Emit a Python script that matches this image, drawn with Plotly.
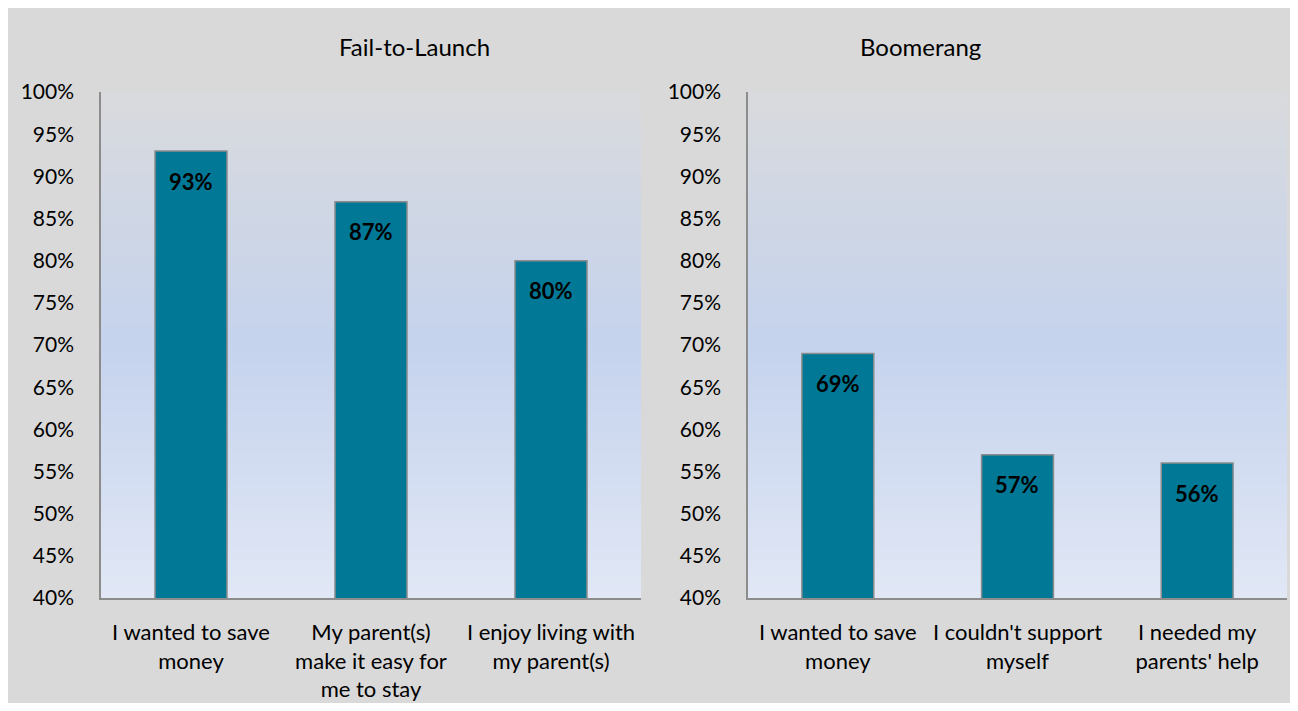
import plotly.graph_objects as go

# ---- data ----
ftl_categories = ["I wanted to save<br>money", "My parent(s)<br>make it easy for<br>me to stay", "I enjoy living with<br>my parent(s)"]
ftl_values = [93, 87, 80]
boom_categories = ["I wanted to save<br>money", "I couldn't support<br>myself", "I needed my<br>parents' help"]
boom_values = [69, 57, 56]
panel_titles = ["Fail-to-Launch", "Boomerang"]
y_ticks = [40, 45, 50, 55, 60, 65, 70, 75, 80, 85, 90, 95, 100]
y_tick_labels = [f"{v}%" for v in y_ticks]

# figure sized so that the page (with the default 8px body margin) fits the 1298x711 window
W, H = 1282, 695
OFF = 8  # body margin of the page
FONT = "Lato"
BAR_COLOR = "#007896"
BAR_LINE = "#8c8c8c"
BG = "#d9d9d9"


def px(x):  # window x -> paper fraction
    return (x - OFF) / W


def py(y):  # window y (from top) -> paper fraction
    return (H - (y - OFF)) / H


fig = go.Figure()

fig.add_trace(go.Bar(x=ftl_categories, y=ftl_values, xaxis="x", yaxis="y",
                     marker=dict(color=BAR_COLOR, line=dict(color=BAR_LINE, width=1.5)),
                     width=0.4, base=0, hoverinfo="skip", showlegend=False))
fig.add_trace(go.Bar(x=boom_categories, y=boom_values, xaxis="x2", yaxis="y2",
                     marker=dict(color=BAR_COLOR, line=dict(color=BAR_LINE, width=1.5)),
                     width=0.4, base=0, hoverinfo="skip", showlegend=False))

for cats, vals, xr, yr in [(ftl_categories, ftl_values, "x", "y"), (boom_categories, boom_values, "x2", "y2")]:
    for c, v in zip(cats, vals):
        fig.add_annotation(x=c, y=v, xref=xr, yref=yr, text=f"<b>{v}%</b>", showarrow=False,
                           yshift=-30, font=dict(family=FONT, size=22, color="black"))

shapes = []
shapes.append(dict(type="rect", xref="paper", yref="paper", x0=0, x1=1, y0=0, y1=min(1, py(12)),
                   fillcolor=BG, line=dict(width=0), layer="below"))

stops = [(0.0, (217, 218, 221)), (0.5, (197, 211, 237)), (1.0, (225, 231, 245))]


def col_at(t):
    for (t0, c0), (t1, c1) in zip(stops[:-1], stops[1:]):
        if t0 <= t <= t1:
            f = (t - t0) / (t1 - t0)
            return "rgb(%d,%d,%d)" % tuple(round(a + (b - a) * f) for a, b in zip(c0, c1))
    return "rgb(%d,%d,%d)" % stops[-1][1]


N = 80
for xr, yr in [("x domain", "y domain"), ("x2 domain", "y2 domain")]:
    for i in range(N):
        t = (i + 0.5) / N
        shapes.append(dict(type="rect", xref=xr, yref=yr, x0=0, x1=1,
                           y0=1 - (i + 1) / N, y1=1 - i / N + 0.002,
                           fillcolor=col_at(t), line=dict(width=0), layer="below"))

fig.update_layout(shapes=shapes)

fig.add_annotation(x=px(337), y=py(47), xref="paper", yref="paper", text=panel_titles[0],
                   showarrow=False, yanchor="middle", font=dict(family=FONT, size=24, color="black"))
fig.add_annotation(x=px(983), y=py(47), xref="paper", yref="paper", text=panel_titles[1],
                   showarrow=False, yanchor="middle", font=dict(family=FONT, size=24, color="black"))

y_dom = [py(598), py(92)]
xaxis_common = dict(showgrid=False, zeroline=False, showline=True, linecolor="#8c8c8c", linewidth=1.5,
                    ticks="", ticklabelstandoff=14, tickfont=dict(family=FONT, size=22, color="black"),
                    automargin=False, fixedrange=True)
yaxis_common = dict(range=[40, 100], tickvals=y_ticks, ticktext=y_tick_labels, showgrid=False,
                    zeroline=False, showline=True, linecolor="#8c8c8c", linewidth=1.5, ticks="",
                    ticklabelstandoff=21, tickfont=dict(family=FONT, size=21, color="black"),
                    domain=y_dom, automargin=False, fixedrange=True)

fig.update_layout(
    width=W, height=H,
    margin=dict(l=0, r=0, t=0, b=0, pad=0),
    paper_bgcolor=BG, plot_bgcolor="rgba(0,0,0,0)",
    font=dict(family=FONT, color="black"),
    xaxis=dict(domain=[px(101), px(641)], anchor="y", **xaxis_common),
    yaxis=dict(anchor="x", **yaxis_common),
    xaxis2=dict(domain=[px(748), px(1287)], anchor="y2", **xaxis_common),
    yaxis2=dict(anchor="x2", **yaxis_common),
)

fig.write_html("out.html")
